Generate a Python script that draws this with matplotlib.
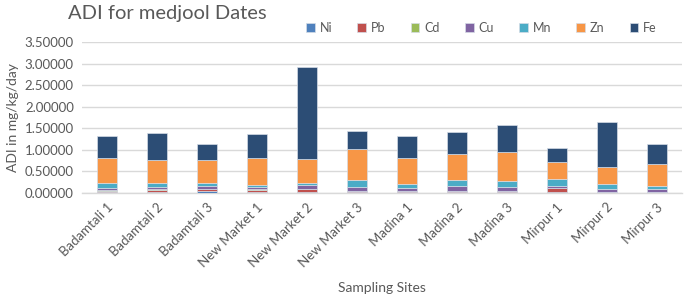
import numpy as np
import matplotlib.pyplot as plt

# =============================
# DATA
# =============================

sites = ["Badamtali 1", "Badamtali 2", "Badamtali 3", "New Market 1", "New Market 2",
         "New Market 3", "Madina 1", "Madina 2", "Madina 3", "Mirpur 1", "Mirpur 2", "Mirpur 3"]

ni = [0.02, 0.02, 0.03, 0.02, 0.02, 0.01, 0.01, 0.01, 0.01, 0.02, 0.01, 0.01]
pb = [0.03, 0.04, 0.05, 0.05, 0.06, 0.02, 0.02, 0.02, 0.03, 0.08, 0.01, 0.01]
cd = [0.01, 0.02, 0.01, 0.01, 0.01, 0.005, 0.005, 0.005, 0.01, 0.005, 0.005, 0.005]
cu = [0.06, 0.05, 0.06, 0.05, 0.08, 0.10, 0.07, 0.11, 0.09, 0.06, 0.05, 0.05]
mn = [0.11, 0.09, 0.08, 0.06, 0.05, 0.17, 0.09, 0.14, 0.14, 0.15, 0.12, 0.07]
zn = [0.58, 0.55, 0.52, 0.62, 0.56, 0.71, 0.62, 0.62, 0.67, 0.40, 0.41, 0.53]
fe = [0.50, 0.61, 0.39, 0.56, 2.14, 0.42, 0.51, 0.51, 0.62, 0.33, 1.05, 0.46]

series = [("Ni", ni), ("Pb", pb), ("Cd", cd), ("Cu", cu), ("Mn", mn), ("Zn", zn), ("Fe", fe)]
colors = ["#4F81BD", "#C0504D", "#9BBB59", "#8064A2", "#4BACC6", "#F79646", "#2C4D75"]

yticks = [0.0, 0.5, 1.0, 1.5, 2.0, 2.5, 3.0, 3.5]

# =============================
# PLOT
# =============================

plt.rcParams["font.family"] = ["Lato", "DejaVu Sans"]
text_color = "#595959"

fig = plt.figure(figsize=(6.85, 2.96), dpi=100)
ax = fig.add_axes([0.12, 0.349, 0.875, 0.508])

x = np.arange(len(sites))
bottom = np.zeros(len(sites))
handles = []
for (name, vals), color in zip(series, colors):
    bars = ax.bar(x, vals, width=0.4, bottom=bottom, color=color, label=name,
                  edgecolor="#d5dce6", linewidth=0.5, zorder=3)
    bottom += np.array(vals)
    handles.append(bars)

ax.set_xlim(-0.5, len(sites) - 0.5)
ax.set_ylim(0, 3.5)
ax.set_yticks(yticks)
ax.set_yticklabels([f"{v:.5f}" for v in yticks], fontsize=9.5, color=text_color)
ax.set_xticks(x)
ax.set_xticklabels(sites, rotation=45, ha="right", rotation_mode="anchor",
                   fontsize=9.5, color=text_color)
ax.tick_params(axis="both", length=0, pad=6)

ax.grid(axis="y", color="#d9d9d9", linewidth=1, zorder=0)
for side in ["top", "right", "left"]:
    ax.spines[side].set_visible(False)
ax.spines["bottom"].set_color("#d9d9d9")
ax.spines["bottom"].set_linewidth(1)

ax.set_ylabel("ADI in mg/kg/day", fontsize=10, color=text_color, labelpad=4)
ax.set_xlabel("Sampling Sites", fontsize=10, color=text_color, labelpad=9)

fig.text(0.099, 0.955, "ADI for medjool Dates", fontsize=14.5, color=text_color,
         ha="left", va="center")

fig.legend(handles=handles, labels=[s[0] for s in series], loc="center",
           bbox_to_anchor=(0.703, 0.905), ncol=7, frameon=False, fontsize=9,
           handlelength=0.7, handleheight=0.7, handletextpad=0.4, columnspacing=2.0,
           labelcolor=text_color)

fig.savefig("out.png", dpi=100)
